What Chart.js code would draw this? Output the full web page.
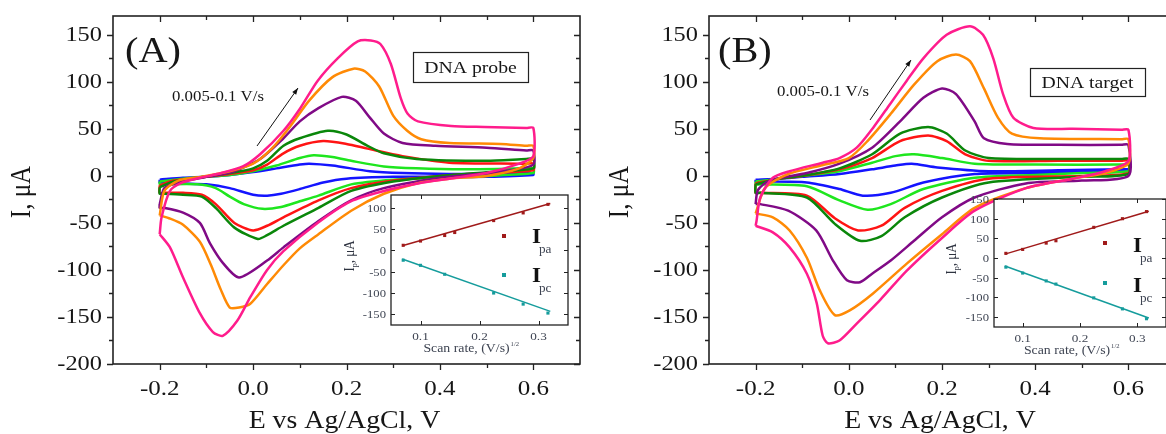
<!DOCTYPE html>
<html lang="en">
<head>
<meta charset="UTF-8">
<title>CV - DNA probe / DNA target</title>
<script src="https://cdn.jsdelivr.net/npm/chart.js@4.4.0/dist/chart.umd.min.js"></script>
<style>
  html, body { margin: 0; padding: 0; width: 1166px; height: 434px; overflow: hidden; background: #fff; }
  canvas { position: absolute; }
</style>
</head>
<body>
<canvas id="cvA" width="595" height="434" style="left:0;top:0"></canvas>
<canvas id="cvB" width="590" height="434" style="left:595px;top:0"></canvas>
<canvas id="insA" width="250" height="175" style="left:330px;top:185px"></canvas>
<canvas id="insB" width="250" height="175" style="left:930px;top:185px"></canvas>
<script>
// scan rates (V/s), one CV loop per rate: [E (V), I (uA)], anodic sweep then cathodic sweep
const scanRates = ['0.005', '0.01', '0.02', '0.025', '0.05', '0.075', '0.1'];

// ---- (A) DNA probe ----
const probe005 = [[-0.2,-4],[-0.15,-2],[-0.1,-1],[-0.05,1],[0,4],[0.05,8],[0.1,12],[0.12,13],[0.17,11],[0.25,5],[0.32,3],[0.42,2],[0.5,2],[0.585,3],[0.6,3],
  [0.6,1],[0.5,-1],[0.4,-1],[0.3,-1],[0.2,-3],[0.15,-7],[0.1,-14],[0.06,-19],[0.03,-21],[0,-20],[-0.05,-13],[-0.1,-9],[-0.15,-8],[-0.19,-7],[-0.2,-7],[-0.2,-4]];
const probe01 = [[-0.2,-6],[-0.15,-3],[-0.1,-1],[-0.05,1],[0,5],[0.05,11],[0.1,19],[0.13,22],[0.17,20],[0.21,16],[0.28,10],[0.35,8],[0.45,7],[0.585,8],[0.6,8],
  [0.6,3],[0.5,0],[0.4,-2],[0.3,-4],[0.21,-9],[0.14,-21],[0.1,-27],[0.06,-33],[0.02,-35],[-0.02,-30],[-0.05,-22],[-0.08,-13],[-0.12,-9],[-0.19,-9],[-0.2,-9],[-0.2,-6]];
const probe02 = [[-0.2,-10],[-0.17,-5],[-0.12,-2],[-0.05,2],[0,6],[0.03,12],[0.065,24],[0.1,32],[0.15,37],[0.2,34],[0.245,29],[0.32,21],[0.42,14],[0.57,13],[0.585,13],[0.6,13],
  [0.6,6],[0.5,3],[0.4,0],[0.3,-5],[0.21,-13],[0.14,-26],[0.065,-44],[0.03,-53],[0,-58],[-0.04,-50],[-0.08,-30],[-0.11,-20],[-0.15,-18],[-0.19,-18],[-0.2,-18],[-0.2,-10]];
const probe025 = [[-0.2,-12],[-0.17,-6],[-0.12,-2],[-0.05,3],[0,8],[0.03,16],[0.065,32],[0.1,40],[0.16,48],[0.2,44],[0.245,32],[0.28,24],[0.35,18],[0.5,16],[0.585,18],[0.6,18],
  [0.6,8],[0.5,4],[0.4,0],[0.3,-6],[0.21,-16],[0.14,-34],[0.065,-53],[0.03,-63],[0.01,-67],[-0.04,-55],[-0.08,-34],[-0.11,-22],[-0.15,-20],[-0.19,-19],[-0.2,-19],[-0.2,-12]];
const probe05 = [[-0.2,-30],[-0.19,-13],[-0.16,-7],[-0.11,-2],[-0.04,5],[0.015,18],[0.065,40],[0.1,58],[0.14,72],[0.19,84],[0.22,80],[0.25,62],[0.28,45],[0.32,35],[0.39,32],[0.5,30],[0.585,27],[0.6,27],
  [0.6,12],[0.55,6],[0.48,2],[0.4,-2],[0.28,-13],[0.21,-26],[0.14,-48],[0.065,-76],[0.03,-90],[-0.03,-108],[-0.064,-93],[-0.092,-72],[-0.114,-50],[-0.15,-39],[-0.19,-34],[-0.2,-34],[-0.2,-30]];
const probe075 = [[-0.2,-42],[-0.19,-16],[-0.16,-5],[-0.11,-1],[-0.05,5],[0,13],[0.04,29],[0.08,53],[0.12,80],[0.17,105],[0.215,114],[0.24,111],[0.27,95],[0.3,64],[0.33,48],[0.36,39],[0.42,35],[0.53,34],[0.585,32],[0.6,32],
  [0.6,19],[0.57,8],[0.5,0],[0.42,-3],[0.35,-8],[0.28,-19],[0.21,-37],[0.14,-62],[0.1,-77],[0.065,-95],[0.03,-115],[-0.006,-136],[-0.03,-140],[-0.05,-140],[-0.07,-120],[-0.09,-95],[-0.114,-70],[-0.15,-52],[-0.18,-45],[-0.2,-42]];
const probe1 = [[-0.2,-62],[-0.196,-44],[-0.178,-16],[-0.151,-7],[-0.114,-2],[-0.077,2],[-0.022,10],[0.015,23],[0.065,48],[0.101,72],[0.138,101],[0.181,125],[0.224,143],[0.252,144],[0.273,140],[0.295,119],[0.316,83],[0.331,66],[0.353,58],[0.424,53],[0.495,52],[0.585,51],[0.6,51],
  [0.6,21],[0.57,13],[0.5,3],[0.42,-3],[0.353,-8],[0.28,-16],[0.209,-27],[0.138,-50],[0.065,-80],[0.03,-100],[-0.006,-129],[-0.034,-154],[-0.065,-170],[-0.086,-166],[-0.114,-146],[-0.15,-108],[-0.178,-76],[-0.2,-62]];

// ---- (B) DNA target ----
const target005 = [[-0.2,-4],[-0.15,-3],[-0.1,-1],[-0.02,2],[0.05,7],[0.1,11],[0.135,13],[0.19,9],[0.3,5],[0.45,6],[0.585,7],[0.6,7],
  [0.6,5],[0.5,4],[0.4,3],[0.27,2],[0.16,-7],[0.09,-18],[0.03,-21],[-0.02,-14],[-0.09,-7],[-0.19,-6],[-0.2,-6],[-0.2,-4]];
const target01 = [[-0.2,-6],[-0.15,-3],[-0.1,0],[-0.02,5],[0.05,14],[0.1,21],[0.14,23],[0.2,19],[0.27,13],[0.4,12],[0.585,12],[0.6,12],
  [0.6,5],[0.5,3],[0.4,1],[0.27,-2],[0.16,-14],[0.09,-30],[0.04,-36],[-0.02,-26],[-0.09,-11],[-0.19,-9],[-0.2,-9],[-0.2,-6]];
const target02 = [[-0.2,-8],[-0.15,-3],[-0.1,0],[-0.02,7],[0.05,19],[0.11,37],[0.17,43],[0.21,37],[0.25,23],[0.3,16],[0.45,16],[0.585,16],[0.6,16],
  [0.6,3],[0.5,0],[0.3,-3],[0.2,-16],[0.12,-34],[0.07,-53],[0.02,-58],[-0.03,-45],[-0.09,-21],[-0.19,-18],[-0.2,-18],[-0.2,-8]];
const target025 = [[-0.2,-9],[-0.15,-3],[-0.1,0],[-0.02,8],[0.05,23],[0.11,45],[0.17,52],[0.21,45],[0.25,27],[0.3,19],[0.45,18],[0.585,18],[0.6,18],
  [0.6,2],[0.5,-1],[0.3,-7],[0.2,-23],[0.12,-44],[0.07,-64],[0.024,-69],[-0.03,-51],[-0.09,-23],[-0.19,-18],[-0.2,-18],[-0.2,-9]];
const target05 = [[-0.2,-30],[-0.195,-15],[-0.17,-5],[-0.09,3],[-0.02,13],[0.05,30],[0.11,58],[0.16,83],[0.2,93],[0.23,87],[0.27,58],[0.29,40],[0.34,34],[0.45,33],[0.585,33],[0.6,33],
  [0.6,0],[0.5,-5],[0.38,-8],[0.27,-23],[0.2,-44],[0.14,-69],[0.09,-90],[0.05,-104],[0.024,-113],[-0.004,-111],[-0.034,-90],[-0.07,-58],[-0.13,-37],[-0.19,-30],[-0.2,-30]];
const target075 = [[-0.2,-40],[-0.18,-13],[-0.13,2],[-0.06,11],[0,19],[0.04,37],[0.09,66],[0.14,97],[0.19,122],[0.23,129],[0.26,122],[0.29,93],[0.32,62],[0.35,45],[0.41,40],[0.585,39],[0.6,39],
  [0.6,13],[0.55,3],[0.48,-3],[0.38,-13],[0.27,-34],[0.2,-62],[0.125,-93],[0.052,-125],[0.002,-143],[-0.03,-148],[-0.062,-122],[-0.09,-87],[-0.127,-58],[-0.163,-44],[-0.2,-40]];
const target1 = [[-0.2,-53],[-0.198,-48],[-0.19,-23],[-0.163,-2],[-0.127,5],[-0.056,14],[-0.02,19],[0.017,30],[0.052,51],[0.088,76],[0.124,101],[0.16,125],[0.21,150],[0.26,159],[0.288,150],[0.31,125],[0.331,87],[0.353,62],[0.396,51],[0.48,50],[0.585,49],[0.6,49],
  [0.6,16],[0.55,5],[0.48,-3],[0.38,-13],[0.27,-37],[0.2,-66],[0.124,-101],[0.067,-132],[0.017,-157],[-0.02,-175],[-0.045,-178],[-0.056,-170],[-0.069,-135],[-0.09,-104],[-0.127,-76],[-0.163,-60],[-0.2,-53]];

// ---- insets: peak currents vs square root of scan rate ----
const sqrtRate = [0.0707, 0.1, 0.141, 0.158, 0.224, 0.274, 0.316];
const probeIpa = [12, 22, 35, 42, 70, 88, 108];
const probeIpc = [-23, -35, -56, null, -100, -126, -147];
const targetIpa = [12, 22, 38, 44, 78, 100, 118];
const targetIpc = [-23, -38, -58, -66, -101, -129, -154];
// linear fit end points [x, y]
const probeIpaFit = [[0.069, 11], [0.32, 110]];
const probeIpcFit = [[0.069, -20], [0.32, -143]];
const targetIpaFit = [[0.069, 10], [0.32, 119]];
const targetIpcFit = [[0.069, -20], [0.32, -152]];

// axis ticks
const cvXTicks = [-0.2, 0, 0.2, 0.4, 0.6];
const cvXMinor = [-0.1, 0.1, 0.3, 0.5];
const cvYTicks = [-200, -150, -100, -50, 0, 50, 100, 150];
const cvYMinor = [-175, -125, -75, -25, 25, 75, 125];
const insXTicks = [0.1, 0.2, 0.3];
const insYTicksA = [-150, -100, -50, 0, 50, 100];
const insYTicksB = [-150, -100, -50, 0, 50, 100, 150];

const rateColors = ['#1414ff', '#1ee61e', '#ff1414', '#0a870a', '#800a86', '#ff8a05', '#ff1c8c'];
const serif = '"Liberation Serif", "Times New Roman", serif';
const ink = '#161616';

// text stretched horizontally (the figure fonts are wide)
function wideText(ctx, txt, x, y, size, sx, align, color, baseline, weight) {
  ctx.save();
  ctx.font = (weight ? weight + ' ' : '') + size + 'px ' + serif;
  ctx.fillStyle = color || ink;
  ctx.textAlign = align || 'left';
  ctx.textBaseline = baseline || 'alphabetic';
  ctx.translate(x, y);
  ctx.scale(sx, 1);
  ctx.fillText(txt, 0, 0);
  ctx.restore();
}

// out = -1: bottom/left ticks point outwards, top/right always inwards
function tickMarks(ctx, a, x, y, spec) {
  ctx.beginPath();
  spec.xMajor.forEach(v => {
    const p = Math.round(x.getPixelForValue(v)) + 0.5;
    ctx.moveTo(p, a.bottom); ctx.lineTo(p, a.bottom - spec.out * spec.len);
    ctx.moveTo(p, a.top); ctx.lineTo(p, a.top + spec.len);
  });
  spec.xMinor.forEach(v => {
    const p = Math.round(x.getPixelForValue(v)) + 0.5;
    ctx.moveTo(p, a.bottom); ctx.lineTo(p, a.bottom - spec.out * spec.minor);
    ctx.moveTo(p, a.top); ctx.lineTo(p, a.top + spec.minor);
  });
  spec.yMajor.forEach(v => {
    const p = Math.round(y.getPixelForValue(v)) + 0.5;
    ctx.moveTo(a.left, p); ctx.lineTo(a.left + spec.out * spec.len, p);
    ctx.moveTo(a.right, p); ctx.lineTo(a.right - spec.len, p);
  });
  spec.yMinor.forEach(v => {
    const p = Math.round(y.getPixelForValue(v)) + 0.5;
    ctx.moveTo(a.left, p); ctx.lineTo(a.left + spec.out * spec.minor, p);
    ctx.moveTo(a.right, p); ctx.lineTo(a.right - spec.minor, p);
  });
  ctx.stroke();
}

// frame, ticks and all annotation text of one CV panel
function cvDecor(p) {
  return {
    id: 'cvDecor',
    afterDraw(chart) {
      const { ctx, chartArea: a, scales: { x, y } } = chart;
      ctx.save();
      ctx.strokeStyle = '#222';
      ctx.lineWidth = 1.6;
      ctx.strokeRect(a.left, a.top, a.right - a.left, a.bottom - a.top);
      ctx.lineWidth = 1.3;
      tickMarks(ctx, a, x, y, { xMajor: cvXTicks, xMinor: cvXMinor, yMajor: cvYTicks, yMinor: cvYMinor, len: 6, minor: 4, out: -1 });
      ctx.restore();
      cvXTicks.forEach(v => wideText(ctx, v.toFixed(1), x.getPixelForValue(v), a.bottom + 31, 20, 1.25, 'center'));
      cvYTicks.forEach(v => wideText(ctx, String(v), a.left - 11, y.getPixelForValue(v) + 1, 20, 1.22, 'right', ink, 'middle'));
      wideText(ctx, 'E vs Ag/AgCl, V', (a.left + a.right) / 2 - 2, a.bottom + 64, 26, 1.07, 'center');
      // rotated y title
      ctx.save();
      ctx.translate(a.left - p.yTitleDx, (a.top + a.bottom) / 2 + 2);
      ctx.rotate(-Math.PI / 2);
      ctx.scale(1, 1.2);
      ctx.font = '25px ' + serif;
      ctx.fillStyle = ink;
      ctx.textAlign = 'center';
      ctx.textBaseline = 'middle';
      ctx.fillText('I, \u03bcA', 0, 0);
      ctx.restore();
      // panel tag, scan-rate note and arrow
      wideText(ctx, p.tag, a.left + p.tagDx, a.top + 46, 36, 1.12);
      wideText(ctx, '0.005-0.1 V/s', a.left + p.noteDx, a.top + p.noteDy, 14, 1.2);
      const [x0, y0, x1, y1] = p.arrow.map((v, i) => v + (i % 2 ? a.top : a.left));
      ctx.save();
      ctx.strokeStyle = '#111';
      ctx.fillStyle = '#111';
      ctx.lineWidth = 1;
      ctx.beginPath(); ctx.moveTo(x0, y0); ctx.lineTo(x1, y1); ctx.stroke();
      const ang = Math.atan2(y1 - y0, x1 - x0);
      ctx.beginPath();
      ctx.moveTo(x1, y1);
      ctx.lineTo(x1 - 7 * Math.cos(ang - 0.35), y1 - 7 * Math.sin(ang - 0.35));
      ctx.lineTo(x1 - 7 * Math.cos(ang + 0.35), y1 - 7 * Math.sin(ang + 0.35));
      ctx.closePath(); ctx.fill();
      // boxed sample name
      const [bx, by, bw, bh] = p.box;
      ctx.fillStyle = '#fff';
      ctx.fillRect(a.left + bx, a.top + by, bw, bh);
      ctx.strokeStyle = '#222';
      ctx.lineWidth = 1.2;
      ctx.strokeRect(a.left + bx + 0.5, a.top + by + 0.5, bw, bh);
      ctx.restore();
      wideText(ctx, p.boxText, a.left + bx + bw / 2, a.top + by + bh / 2 + 6, 17, 1.16, 'center');
    }
  };
}

function cvChart(id, curves, pad, p) {
  const datasets = curves.map((c, i) => ({
    label: scanRates[i] + ' V/s',
    data: c.map(([e, cur]) => ({ x: e, y: cur })),
    showLine: true,
    borderColor: rateColors[i],
    borderWidth: 2.5,
    pointRadius: 0,
    tension: 0.25,
    fill: false
  })).reverse();
  return new Chart(document.getElementById(id), {
    type: 'scatter',
    data: { datasets },
    options: {
      responsive: false,
      animation: false,
      devicePixelRatio: 1,
      layout: { padding: pad },
      plugins: { legend: { display: false }, tooltip: { enabled: false } },
      scales: {
        x: { type: 'linear', min: -0.3, max: 0.7, display: false },
        y: { type: 'linear', min: -200, max: 170, display: false }
      }
    },
    plugins: [cvDecor(p)]
  });
}

function insetDecor(p) {
  return {
    id: 'insetDecor',
    beforeDatasetsDraw(chart) {
      const { ctx, chartArea: a } = chart;
      ctx.save();
      ctx.fillStyle = '#fff';
      ctx.fillRect(a.left, a.top, a.right - a.left, a.bottom - a.top);
      ctx.restore();
    },
    afterDraw(chart) {
      const { ctx, chartArea: a, scales: { x, y } } = chart;
      const grey = '#3e4452';
      ctx.save();
      ctx.strokeStyle = '#222';
      ctx.lineWidth = 1.3;
      ctx.strokeRect(a.left, a.top, a.right - a.left, a.bottom - a.top);
      ctx.lineWidth = 1;
      tickMarks(ctx, a, x, y, { xMajor: insXTicks, xMinor: [], yMajor: p.yTicks, yMinor: [], len: 4, minor: 2, out: 1 });
      ctx.restore();
      insXTicks.forEach(v => wideText(ctx, v.toFixed(1), x.getPixelForValue(v), a.bottom + 15, 11, 1.2, 'center', grey));
      p.yTicks.forEach(v => wideText(ctx, String(v), a.left - 5, y.getPixelForValue(v) + 1, 11, 1.15, 'right', grey, 'middle'));
      // x title with superscript 1/2
      const cx = (a.left + a.right) / 2 - 13;
      wideText(ctx, 'Scan rate, (V/s)', cx, a.bottom + 27, 12, 1.15, 'center', grey);
      ctx.save();
      ctx.font = '12px ' + serif;
      const half = ctx.measureText('Scan rate, (V/s)').width * 1.15 / 2;
      ctx.restore();
      wideText(ctx, '1/2', cx + half + 1, a.bottom + 21, 6, 1.1, 'left', grey);
      // rotated y title: I_p, uA
      ctx.save();
      ctx.translate(a.left - p.yTitleDx, (a.top + a.bottom) / 2 - 4);
      ctx.rotate(-Math.PI / 2);
      ctx.scale(1, 1.15);
      ctx.fillStyle = '#2e3340';
      ctx.textBaseline = 'middle';
      ctx.font = '13px ' + serif;
      const w1 = ctx.measureText('I').width;
      ctx.font = '8px ' + serif;
      const w2 = ctx.measureText('p').width;
      ctx.font = '13px ' + serif;
      const w3 = ctx.measureText(', \u03bcA').width;
      const sx = -(w1 + w2 + w3) / 2;
      ctx.fillText('I', sx, 0);
      ctx.font = '8px ' + serif;
      ctx.fillText('p', sx + w1, 4);
      ctx.font = '13px ' + serif;
      ctx.fillText(', \u03bcA', sx + w1 + w2, 0);
      ctx.restore();
      // legend
      const lg = p.legend;
      ctx.save();
      ctx.fillStyle = p.paColor;
      ctx.fillRect(a.left + lg.mx - 2, a.top + lg.paY - 2, 4, 4);
      ctx.fillStyle = p.pcColor;
      ctx.fillRect(a.left + lg.mx - 2, a.top + lg.pcY - 2, 4, 4);
      ctx.restore();
      wideText(ctx, 'I', a.left + lg.ix, a.top + lg.paY + lg.iDy, 20, 1.15, 'left', '#111', 'alphabetic', 'bold');
      wideText(ctx, 'pa', a.left + lg.ix + 7, a.top + lg.paY + lg.iDy + 10, 12, 1.1, 'left', grey);
      wideText(ctx, 'I', a.left + lg.ix, a.top + lg.pcY + lg.iDy, 20, 1.15, 'left', '#111', 'alphabetic', 'bold');
      wideText(ctx, 'pc', a.left + lg.ix + 7, a.top + lg.pcY + lg.iDy + 10, 12, 1.1, 'left', grey);
    }
  };
}

function insetChart(id, ipa, ipc, paFit, pcFit, yMin, yMax, pad, p) {
  const paColor = '#a01a1a', pcColor = '#159c9c';
  p.paColor = paColor; p.pcColor = pcColor;
  const pts = arr => sqrtRate.map((r, i) => ({ x: r, y: arr[i] })).filter(d => d.y !== null);
  const seg = arr => arr.map(([vx, vy]) => ({ x: vx, y: vy }));
  return new Chart(document.getElementById(id), {
    type: 'scatter',
    data: {
      datasets: [
        { label: 'Ipa', data: pts(ipa), pointStyle: 'rect', pointRadius: 2.2, backgroundColor: paColor, borderColor: paColor, borderWidth: 0 },
        { label: 'Ipc', data: pts(ipc), pointStyle: 'rect', pointRadius: 2.2, backgroundColor: pcColor, borderColor: pcColor, borderWidth: 0 },
        { label: 'Ipa fit', data: seg(paFit), showLine: true, pointRadius: 0, borderColor: paColor, borderWidth: 1.5 },
        { label: 'Ipc fit', data: seg(pcFit), showLine: true, pointRadius: 0, borderColor: pcColor, borderWidth: 1.5 }
      ]
    },
    options: {
      responsive: false,
      animation: false,
      devicePixelRatio: 1,
      layout: { padding: pad },
      plugins: { legend: { display: false }, tooltip: { enabled: false } },
      scales: {
        x: { type: 'linear', min: 0.05, max: 0.35, display: false },
        y: { type: 'linear', min: yMin, max: yMax, display: false }
      }
    },
    plugins: [insetDecor(p)]
  });
}

cvChart('cvA', [probe005, probe01, probe02, probe025, probe05, probe075, probe1],
  { left: 113, top: 16, right: 15, bottom: 70 },
  { tag: '(A)', tagDx: 12, noteDx: 59, noteDy: 85, arrow: [144, 130, 185, 72], box: [300, 36, 115, 30], boxText: 'DNA probe', yTitleDx: 91 });

cvChart('cvB', [target005, target01, target02, target025, target05, target075, target1],
  { left: 114, top: 16, right: 10, bottom: 70 },
  { tag: '(B)', tagDx: 9, noteDx: 68, noteDy: 80, arrow: [161, 104, 202, 44], box: [321, 52, 115, 28], boxText: 'DNA target', yTitleDx: 89 });

insetChart('insA', probeIpa, probeIpc, probeIpaFit, probeIpcFit, -175, 130,
  { left: 61, top: 10, right: 12, bottom: 35 },
  { yTicks: insYTicksA, yTitleDx: 41, legend: { mx: 113, paY: 41, pcY: 80, ix: 141, iDy: 7 } });

insetChart('insB', targetIpa, targetIpc, targetIpaFit, targetIpcFit, -175, 150,
  { left: 64, top: 14, right: 14, bottom: 33 },
  { yTicks: insYTicksB, yTitleDx: 42, legend: { mx: 111, paY: 44, pcY: 84, ix: 139, iDy: 9 } });
</script>
</body>
</html>
